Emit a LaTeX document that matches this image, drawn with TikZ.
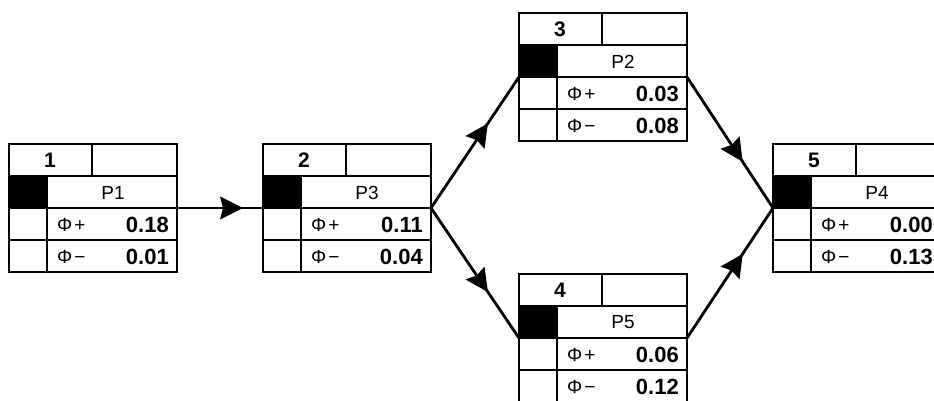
\documentclass[tikz,border=0pt]{standalone}
\usepackage{fontspec}
\setmainfont{Liberation Sans}
\usetikzlibrary{decorations.markings}

\tikzset{
  x=1pt, y=-1pt,
  wframe/.style={draw, line width=1.8pt, minimum width=168pt, minimum height=128pt,
                 inner sep=0pt, outer sep=0pt},
  cellline/.style={line width=1.8pt},
  idtext/.style={font=\fontsize{21}{21}\selectfont\bfseries, inner sep=0pt},
  lbl/.style={font=\fontsize{19}{19}\selectfont, inner sep=0pt},
  valtext/.style={font=\fontsize{22}{22}\selectfont\bfseries, inner sep=0pt, anchor=east},
  symtext/.style={font=\fontsize{19}{19}\selectfont, inner sep=0pt, anchor=west},
  flow/.style={line width=2.8pt, postaction={decorate},
    decoration={markings, mark=at position 0.5 with
      {\fill (23,0) -- (0,11.5) -- (3,0) -- (0,-11.5) -- cycle;}}}
}

% #1 name, #2/#3 centre, #4 number, #5 label, #6 phi+, #7 phi-
\newcommand\wbox[7]{%
  \node[wframe] (#1) at (#2,#3) {};
  \begin{scope}[shift={(#2-84,#3-64)}]
    \fill (0,32) rectangle (38,64);
    \draw[cellline] (0,32) -- (168,32) (0,64) -- (168,64) (0,96) -- (168,96)
                    (38,32) -- (38,128) (83,0) -- (83,32);
    \node[idtext] (#1-id) at (41,16.5) {#4};
    \node[lbl] (#1-lbl) at (104,48.5) {#5};
    \node[symtext] (#1-sp) at (48,80.5) {Φ\kern2pt+};
    \node[symtext] (#1-sm) at (48,112.5) {Φ\kern2pt−};
    \node[valtext] (#1-vp) at (160,80.5) {#6};
    \node[valtext] (#1-vm) at (160,112.5) {#7};
  \end{scope}
}

\begin{document}
\begin{tikzpicture}
  \useasboundingbox (0,0) rectangle (934,401);
  \clip (0,0) rectangle (934,401);
  \fill[white] (0,0) rectangle (934,401);

  \wbox{b1}{93}{208}{1}{P1}{0.18}{0.01}
  \wbox{b2}{347}{208}{2}{P3}{0.11}{0.04}
  \wbox{b3}{603}{77}{3}{P2}{0.03}{0.08}
  \wbox{b4}{603}{338}{4}{P5}{0.06}{0.12}
  \wbox{b5}{857}{208}{5}{P4}{0.00}{0.13}

  \draw[flow] (b1.east) -- (b2.west);
  \draw[flow] (b2.east) -- (b3.west);
  \draw[flow] (b2.east) -- (b4.west);
  \draw[flow] (b3.east) -- (b5.west);
  \draw[flow] (b4.east) -- (b5.west);
\end{tikzpicture}
\end{document}
